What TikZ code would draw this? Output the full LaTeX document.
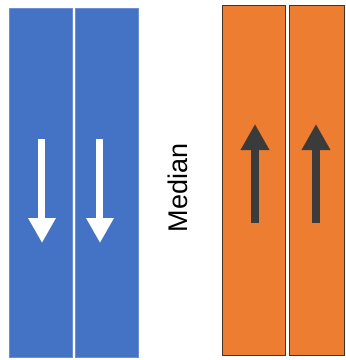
\documentclass[tikz,border=0pt]{standalone}
\usepackage{fontspec}
\setmainfont{Liberation Sans}
\usetikzlibrary{arrows.meta}
\definecolor{laneblue}{HTML}{4472C4}
\definecolor{laneblueedge}{HTML}{6A8FD6}
\definecolor{laneorange}{HTML}{ED7D31}
\definecolor{orangeedge}{HTML}{4A3020}
\definecolor{darkarrow}{HTML}{3B3B3B}
\begin{document}
\begin{tikzpicture}[x=1pt,y=-1pt,
  bluelane/.style={fill=laneblue,draw=laneblueedge,line width=0.8pt},
  orangelane/.style={fill=laneorange,draw=orangeedge,line width=1pt},
  whitearrow/.style={draw=white,line width=7pt,-{Triangle[width=26pt,length=25pt]}},
  darkarrowst/.style={draw=darkarrow,line width=8pt,-{Triangle[width=27pt,length=26pt]}}]
\useasboundingbox (0,0) rectangle (346,360);
\fill[white] (0,0) rectangle (346,360);
\draw[bluelane] (9,8) rectangle (72,357);
\draw[bluelane] (75,8) rectangle (138,357);
\draw[orangelane] (223,5) rectangle (286,355);
\draw[orangelane] (290,5) rectangle (345,355);
\coordinate (b1s) at (42,139);
\coordinate (b1e) at (42,243);
\coordinate (b2s) at (100,139);
\coordinate (b2e) at (100,243);
\coordinate (o1s) at (255,223);
\coordinate (o1e) at (255,124);
\coordinate (o2s) at (316,223);
\coordinate (o2e) at (316,124);
\draw[whitearrow] (b1s) -- (b1e);
\draw[whitearrow] (b2s) -- (b2e);
\draw[darkarrowst] (o1s) -- (o1e);
\draw[darkarrowst] (o2s) -- (o2e);
\node[rotate=90,font=\fontsize{27}{30}\selectfont,inner sep=0pt] (median) at (178,188) {Median};
\end{tikzpicture}
\end{document}
